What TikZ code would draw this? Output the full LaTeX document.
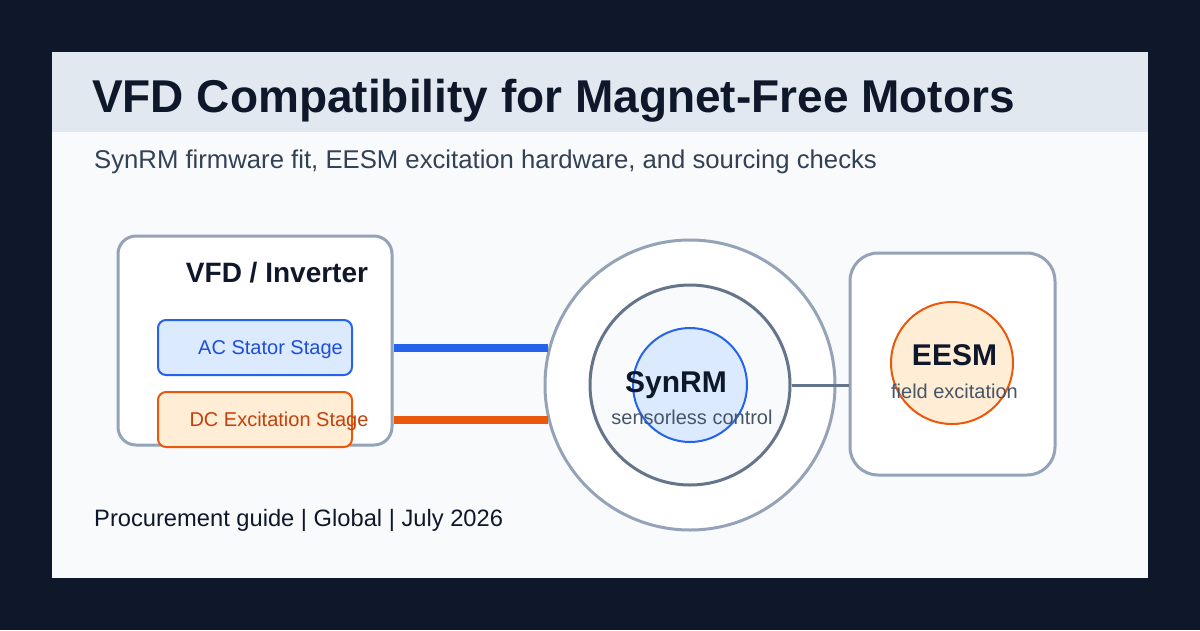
\documentclass[tikz,border=0pt]{standalone}
\usepackage{fontspec}
\setmainfont{Liberation Sans}
\usetikzlibrary{positioning}
\definecolor{night}{RGB}{15, 23, 42}
\definecolor{paper}{RGB}{248, 250, 252}
\definecolor{band}{RGB}{226, 232, 240}
\definecolor{subtext}{RGB}{51, 65, 85}
\definecolor{smalltext}{RGB}{71, 85, 105}
\definecolor{gray}{RGB}{148, 163, 184}
\definecolor{slate}{RGB}{100, 116, 139}
\definecolor{blue}{RGB}{37, 99, 235}
\definecolor{darkblue}{RGB}{29, 78, 216}
\definecolor{lightblue}{RGB}{219, 234, 254}
\definecolor{orange}{RGB}{234, 88, 12}
\definecolor{darkorange}{RGB}{194, 65, 12}
\definecolor{lightorange}{RGB}{255, 237, 213}
\newlength{\stagedist}
\setlength{\stagedist}{15pt}
\newcommand{\fs}[1]{\fontsize{#1}{#1}\selectfont}

\begin{document}
\begin{tikzpicture}[x=1pt,y=-1pt]

\fill[night] (0,0) rectangle (1200,630);
\fill[paper] (52,52) rectangle (1148,578);
\fill[band] (52,52) rectangle (1148,132);

\node[anchor=base west, inner sep=0pt, text=night, font=\fs{46}\bfseries](title) at (92,112) {VFD Compatibility for Magnet-Free Motors};
\node[anchor=base west, inner sep=0pt, text=subtext, font=\fs{25.7}](subtitle) at (94,168) {SynRM firmware fit, EESM excitation hardware, and sourcing checks};
\node[anchor=base west, inner sep=0pt, text=night, font=\fs{23.7}](footer) at (94,526) {Procurement guide | Global | July 2026};

\node[rectangle, rounded corners=18pt, draw=gray, line width=3pt, fill=white, minimum width=274pt, minimum height=209pt, inner sep=0pt](vfd) at (255,340.5) {};
\node[anchor=base, text=night, font=\fs{28}\bfseries](vfdlabel) at (277,282) {VFD / Inverter};
\node[rectangle, rounded corners=8pt, draw=blue, line width=2pt, fill=lightblue, minimum width=194pt, minimum height=55pt, inner sep=0pt](acstage) at (255,347.5) {};
\node[rectangle, rounded corners=8pt, draw=orange, line width=2pt, fill=lightorange, minimum width=194pt, minimum height=55pt, inner sep=0pt](dcstage)[below=\stagedist of acstage]{};
\node[anchor=base, text=darkblue, font=\fs{20}](aclabel) at (270.5,354) {AC Stator Stage};
\node[anchor=base, text=darkorange, font=\fs{20}](dclabel) at (279,426) {DC Excitation Stage};

\node[circle, draw=gray, line width=3pt, fill=white, minimum size=290pt, inner sep=0pt](motor) at (690,385) {};
\node[circle, draw=slate, line width=3pt, fill=paper, minimum size=200pt, inner sep=0pt](stator) at (motor) {};
\node[circle, draw=blue, line width=2pt, fill=lightblue, minimum size=114pt, inner sep=0pt](rotor) at (motor) {};
\node[anchor=base, text=night, font=\fs{30}\bfseries](synrm) at (676,392) {SynRM};
\node[anchor=base, text=smalltext, font=\fs{20}](sensorless) at (692,424) {sensorless control};

\node[rectangle, rounded corners=28pt, draw=gray, line width=3pt, fill=white, minimum width=205pt, minimum height=222pt, inner sep=0pt](eesmbox) at (952.5,364) {};
\node[circle, draw=orange, line width=2pt, fill=lightorange, minimum size=122pt, inner sep=0pt](field) at (952,363) {};
\node[anchor=base, text=night, font=\fs{30}\bfseries](eesm) at (954.5,365) {EESM};
\node[anchor=base, text=smalltext, font=\fs{20}](excitation) at (954.5,398) {field excitation};

\draw[-, blue, line width=8pt] (acstage.center -| vfd.east) -- ([xshift=4.5pt]acstage.center -| motor.west);
\draw[-, orange, line width=8pt] (dcstage.center -| vfd.east) -- ([xshift=4pt]dcstage.center -| motor.west);
\draw[-, slate, line width=3pt] (stator.east) -- (stator.east -| eesmbox.west);

\end{tikzpicture}
\end{document}
